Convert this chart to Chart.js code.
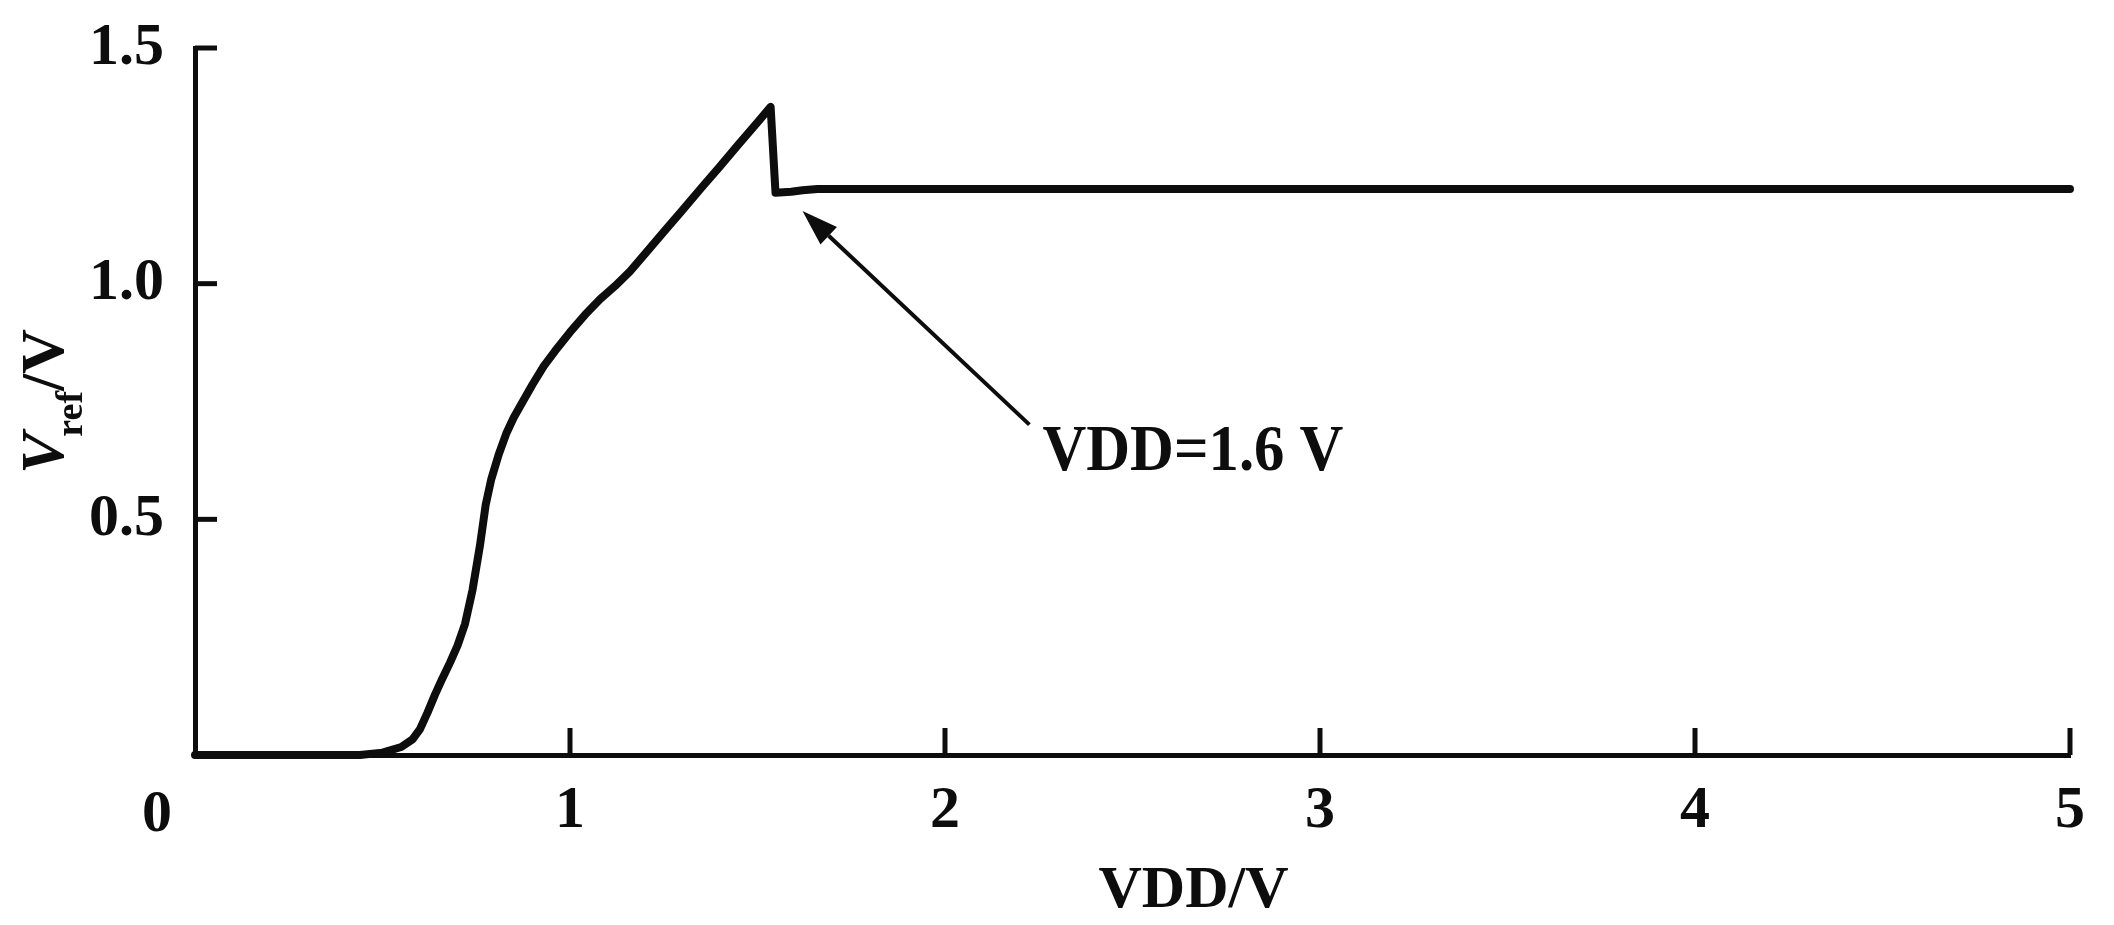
<!DOCTYPE html>
<html>
<head>
<meta charset="utf-8">
<script src="https://cdn.jsdelivr.net/npm/chart.js@4.4.0/dist/chart.umd.min.js"></script>
<style>
  html, body { margin: 0; padding: 0; background: #fff; }
  #wrap { width: 2114px; height: 925px; }
</style>
</head>
<body>
<div id="wrap"><canvas id="vrefChart" width="2114" height="925"></canvas></div>
<script>
// supply sweep, V
const vdd = [0, 0.44, 0.50, 0.55, 0.58, 0.60, 0.62, 0.64, 0.66, 0.68, 0.70, 0.72, 0.74, 0.76,
             0.775, 0.79, 0.81, 0.83, 0.85, 0.87, 0.90, 0.93, 0.96, 1.00, 1.04, 1.08, 1.12,
             1.16, 1.20, 1.25, 1.30, 1.35, 1.40, 1.45, 1.50, 1.535, 1.548, 1.59, 1.62, 1.66, 5.0];
// reference output, V
const vref = [0, 0, 0.005, 0.017, 0.033, 0.055, 0.090, 0.128, 0.163, 0.196, 0.232, 0.278, 0.350,
              0.445, 0.530, 0.585, 0.638, 0.682, 0.716, 0.744, 0.786, 0.825, 0.857, 0.897, 0.934,
              0.967, 0.995, 1.026, 1.063, 1.110, 1.156, 1.203, 1.249, 1.296, 1.342, 1.375, 1.193,
              1.195, 1.198, 1.201, 1.201];

const xTickValues = [0, 1, 2, 3, 4, 5];
const yTickValues = [0.5, 1.0, 1.5];
const xTitle = 'VDD/V';
const noteText = 'VDD=1.6 V';
const noteTail = [2.225, 0.701];
const noteHead = [1.62, 1.154];

const FONT = '"Liberation Serif", "DejaVu Serif", serif';
const INK = '#0d0d0d';

// inward ticks, origin label, axis titles and the arrow note
const decorations = {
    id: 'decorations',
    afterDraw(chart) {
        const ctx = chart.ctx;
        const xs = chart.scales.x;
        const ys = chart.scales.y;
        const area = chart.chartArea;

        ctx.save();
        ctx.strokeStyle = INK;
        ctx.fillStyle = INK;
        ctx.lineWidth = 5;

        xTickValues.forEach(v => {
            if (v === 0) return;
            const px = xs.getPixelForValue(v);
            ctx.beginPath();
            ctx.moveTo(px, area.bottom);
            ctx.lineTo(px, area.bottom - 27);
            ctx.stroke();
        });
        yTickValues.forEach(v => {
            const py = ys.getPixelForValue(v);
            ctx.beginPath();
            ctx.moveTo(area.left, py);
            ctx.lineTo(area.left + 22, py);
            ctx.stroke();
        });

        // shared origin label
        ctx.font = 'bold 60px ' + FONT;
        ctx.textAlign = 'center';
        ctx.textBaseline = 'alphabetic';
        ctx.fillText('0', xs.getPixelForValue(0) - 38, area.bottom + 76);

        // x title
        ctx.fillText(xTitle, (area.left + area.right) / 2 + 61, area.bottom + 152);

        // y title: V_ref/V
        ctx.save();
        ctx.translate(63, 474);
        ctx.rotate(-Math.PI / 2);
        ctx.textAlign = 'left';
        ctx.font = 'italic bold 62px ' + FONT;
        ctx.fillText('V', 0, 0);
        let w = ctx.measureText('V').width - 4;
        ctx.font = 'bold 38px ' + FONT;
        ctx.fillText('ref', w, 19);
        w += ctx.measureText('ref').width;
        ctx.font = 'bold 62px ' + FONT;
        ctx.fillText('/V', w, 0);
        ctx.restore();

        // arrow
        const tx = xs.getPixelForValue(noteTail[0]);
        const ty = ys.getPixelForValue(noteTail[1]);
        const hx = xs.getPixelForValue(noteHead[0]);
        const hy = ys.getPixelForValue(noteHead[1]);
        const ang = Math.atan2(hy - ty, hx - tx);
        const headLen = 36, headHalf = 12;
        const bx = hx - headLen * Math.cos(ang);
        const by = hy - headLen * Math.sin(ang);
        ctx.lineWidth = 4;
        ctx.beginPath();
        ctx.moveTo(tx, ty);
        ctx.lineTo(bx, by);
        ctx.stroke();
        ctx.beginPath();
        ctx.moveTo(hx, hy);
        ctx.lineTo(bx + headHalf * Math.sin(ang), by - headHalf * Math.cos(ang));
        ctx.lineTo(bx - headHalf * Math.sin(ang), by + headHalf * Math.cos(ang));
        ctx.closePath();
        ctx.fill();

        // note text, slightly condensed like the original
        ctx.save();
        ctx.translate(tx + 13, ty + 45);
        ctx.scale(0.92, 1);
        ctx.textAlign = 'left';
        ctx.font = 'bold 66px ' + FONT;
        ctx.fillText(noteText, 0, 0);
        ctx.restore();

        ctx.restore();
    }
};

const tickFont = { family: FONT, size: 60, weight: 'bold' };

new Chart(document.getElementById('vrefChart'), {
    type: 'line',
    data: {
        datasets: [{
            data: vdd.map((x, i) => ({ x: x, y: vref[i] })),
            borderColor: INK,
            borderWidth: 8,
            borderJoinStyle: 'round',
            borderCapStyle: 'round',
            pointRadius: 0,
            fill: false,
            tension: 0,
            clip: 10
        }]
    },
    options: {
        responsive: false,
        animation: false,
        devicePixelRatio: 1,
        layout: { padding: { top: 48, right: 44, left: 0, bottom: 0 } },
        plugins: {
            legend: { display: false },
            tooltip: { enabled: false }
        },
        scales: {
            x: {
                type: 'linear',
                min: 0,
                max: 5,
                afterBuildTicks: s => { s.ticks = xTickValues.map(v => ({ value: v })); },
                afterFit: s => { s.height = 170; s.paddingLeft = 0; s.paddingRight = 0; },
                grid: { display: false, drawTicks: false },
                border: { display: true, color: INK, width: 5 },
                ticks: {
                    color: INK,
                    font: tickFont,
                    padding: 20,
                    maxRotation: 0,
                    autoSkip: false,
                    callback: v => (v === 0 ? '' : String(v))
                }
            },
            y: {
                type: 'linear',
                min: 0,
                max: 1.5,
                afterBuildTicks: s => { s.ticks = yTickValues.map(v => ({ value: v })); },
                afterFit: s => { s.width = 195; s.paddingTop = 0; s.paddingBottom = 0; },
                grid: { display: false, drawTicks: false },
                border: { display: true, color: INK, width: 5 },
                ticks: {
                    color: INK,
                    font: tickFont,
                    padding: 31,
                    autoSkip: false,
                    callback: v => v.toFixed(1)
                }
            }
        }
    },
    plugins: [decorations]
});
</script>
</body>
</html>
